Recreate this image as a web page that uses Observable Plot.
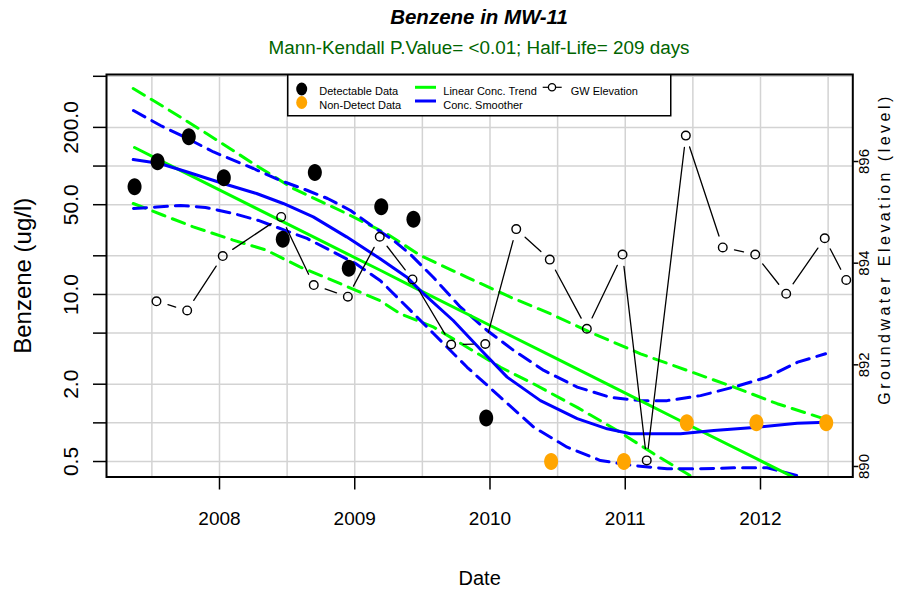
<!DOCTYPE html>
<html>
<head>
<meta charset="utf-8">
<script src="https://cdn.jsdelivr.net/npm/d3@7"></script>
<script src="https://cdn.jsdelivr.net/npm/@observablehq/plot@0.6"></script>
<style>
  html,body{margin:0;padding:0;background:#fff;}
  #chart{position:relative;width:899px;height:595px;font-family:"Liberation Sans",Arial,Helvetica,sans-serif;overflow:hidden;background:#fff;}
  #title{position:absolute;left:106px;width:746px;top:5px;text-align:center;font-weight:bold;font-style:italic;font-size:20.5px;line-height:24px;color:#000;}
  #subtitle{position:absolute;left:106px;width:746px;top:37px;text-align:center;font-size:18.85px;line-height:22px;color:#006400;}
  #plots{position:absolute;left:0;top:60px;width:899px;height:535px;}
  #plots svg{position:absolute;left:0;top:0;}
  #legend{position:absolute;left:287px;top:74px;}
</style>
</head>
<body>
<div id="chart">
  <div id="title">Benzene in MW-11</div>
  <div id="subtitle">Mann-Kendall P.Value= &lt;0.01; Half-Life= 209 days</div>
  <div id="plots"></div>
  <svg id="legend" width="386" height="43" font-family="Liberation Sans, Arial, sans-serif" font-size="11">
    <rect x="0.75" y="0.75" width="383" height="41" fill="#fff" stroke="#000" stroke-width="1.5"></rect>
    <ellipse cx="14.7" cy="15" rx="5.5" ry="6.5" fill="#000"></ellipse>
    <ellipse cx="14.7" cy="28.5" rx="5.5" ry="6.5" fill="#ffa500"></ellipse>
    <text x="32.3" y="20.6">Detectable Data</text>
    <text x="32.3" y="34.9">Non-Detect Data</text>
    <line x1="128" x2="149" y1="13.3" y2="13.3" stroke="#00ff00" stroke-width="3"></line>
    <line x1="128" x2="149" y1="27" y2="27" stroke="#0000ff" stroke-width="3"></line>
    <text x="156.3" y="20.6">Linear Conc. Trend</text>
    <text x="156.3" y="34.9">Conc. Smoother</text>
    <line x1="255.7" x2="274.7" y1="13.3" y2="13.3" stroke="#000" stroke-width="1.2"></line>
    <circle cx="265" cy="13.3" r="3.6" fill="#fff" stroke="#000" stroke-width="1.3"></circle>
    <text x="283.7" y="20.6">GW Elevation</text>
  </svg>
</div>
<script>
// ---------- data (decimal years) ----------
const detYear = [2007.372, 2007.542, 2007.773, 2008.032, 2008.468, 2008.705, 2008.956, 2009.196, 2009.434, 2009.972];
const detConc = [68.9, 107.9, 169, 81, 26.9, 89, 16.0, 48.2, 38.5, 1.09];

const ndYear = [2010.452, 2010.990, 2011.455, 2011.970, 2012.486];
const ndConc = [0.5, 0.5, 1.0, 1.0, 1.0];

const trendYear = [2007.372, 2007.542, 2007.773, 2008.032, 2008.468, 2008.705, 2008.956, 2009.196, 2009.434, 2009.972, 2010.452, 2010.990, 2011.455, 2011.970, 2012.486];
const trendConc = [139.5, 113.4, 85.8, 62.7, 36.9, 27.7, 20.4, 15.3, 11.4, 5.94, 3.32, 1.73, 0.98, 0.526, 0.282];

const trendUpYear = [2007.362, 2007.608, 2007.904, 2008.249, 2008.545, 2008.939, 2009.235, 2009.486, 2009.831, 2010.152, 2010.447, 2010.767, 2011.113, 2011.458, 2011.803, 2012.124, 2012.466];
const trendUp = [401.8, 280.7, 179.3, 104.7, 66.9, 42.7, 29.8, 20.1, 13.6, 9.52, 7.07, 4.94, 3.45, 2.56, 1.90, 1.41, 1.08];

const trendLoYear = [2007.362, 2007.584, 2007.806, 2008.101, 2008.348, 2008.594, 2008.889, 2009.185, 2009.338, 2009.584, 2009.831, 2010.078, 2010.324, 2010.645, 2010.941, 2011.211, 2011.458, 2011.704];
const trendLo = [51.1, 41.4, 33.6, 26.5, 22.1, 16.4, 12.2, 8.97, 7.07, 5.56, 3.88, 2.71, 2.01, 1.32, 0.872, 0.574, 0.401, 0.272];

const smoothYear = [2007.362, 2007.559, 2007.756, 2008.027, 2008.274, 2008.471, 2008.693, 2008.939, 2009.185, 2009.383, 2009.506, 2009.728, 2009.930, 2010.127, 2010.373, 2010.645, 2010.867, 2011.039, 2011.409, 2011.655, 2011.976, 2012.271, 2012.486];
const smoothConc = [112.5, 104.7, 90.2, 73.1, 61.1, 51.1, 40.2, 28.1, 19.05, 13.7, 10.2, 6.27, 3.73, 2.27, 1.49, 1.08, 0.899, 0.822, 0.822, 0.872, 0.925, 0.994, 1.01];

const smoothUpYear = [2007.364, 2007.564, 2007.763, 2007.956, 2008.251, 2008.451, 2008.651, 2008.799, 2008.969, 2009.139, 2009.287, 2009.412, 2009.582, 2009.782, 2009.979, 2010.176, 2010.398, 2010.645, 2010.891, 2011.113, 2011.310, 2011.557, 2011.803, 2012.050, 2012.275, 2012.481];
const smoothUp = [270.7, 206.9, 163.9, 128.7, 95.7, 77.2, 64.5, 55.9, 45.1, 33.5, 26.3, 20.5, 13.55, 7.96, 5.24, 3.66, 2.56, 1.90, 1.58, 1.49, 1.49, 1.63, 1.90, 2.27, 2.97, 3.45];

const smoothLoYear = [2007.364, 2007.538, 2007.712, 2007.896, 2008.104, 2008.288, 2008.466, 2008.647, 2008.843, 2009.006, 2009.190, 2009.338, 2009.584, 2009.831, 2010.078, 2010.324, 2010.571, 2010.817, 2011.063, 2011.310, 2011.557, 2011.803, 2012.050, 2012.272, 2012.481];
const smoothLo = [46.7, 48.0, 49.3, 47.6, 42.7, 37.7, 32.1, 27.3, 21.4, 17.4, 12.8, 8.97, 4.94, 2.71, 1.58, 0.925, 0.646, 0.509, 0.465, 0.439, 0.439, 0.447, 0.447, 0.389, 0.319];

const gwYear = [2007.534, 2007.761, 2008.024, 2008.456, 2008.697, 2008.949, 2009.185, 2009.427, 2009.713, 2009.965, 2010.194, 2010.442, 2010.716, 2010.980, 2011.159, 2011.448, 2011.721, 2011.961, 2012.190, 2012.475, 2012.634];
const gwLevel = [893.25, 893.07, 894.14, 894.91, 893.57, 893.34, 894.52, 893.68, 892.40, 892.41, 894.67, 894.07, 892.71, 894.17, 890.12, 896.51, 894.31, 894.17, 893.40, 894.49, 893.67];

const xTicks = [2008, 2009, 2010, 2011, 2012];
const xGrid = [2007.5, 2008, 2008.5, 2009, 2009.5, 2010, 2010.5, 2011, 2011.5, 2012, 2012.5];
const yTicks = [0.5, 1, 2, 5, 10, 20, 50, 100, 200, 500];
const yLabels = [0.5, 2, 10, 50, 200];
const gwTicks = [890, 892, 894, 896];

// ---------- layout ----------
const W = 899, H = 535;
const M = {top: 14, bottom: 118.5, left: 106, right: 46.7};
const xDomain = [2007.1645, 2012.6825];
const concDomain = [0.3788, 516.4];
const gwDomain = [889.793, 897.712];
const FONT = "'Liberation Sans', Arial, Helvetica, sans-serif";

const pts = (xs, ys) => xs.map((x, i) => ({x, y: ys[i]}));
const ellipse = (rx, ry) => ({
  draw(ctx) {
    const k = 0.5523;
    ctx.moveTo(rx, 0);
    ctx.bezierCurveTo(rx, ry * k, rx * k, ry, 0, ry);
    ctx.bezierCurveTo(-rx * k, ry, -rx, ry * k, -rx, 0);
    ctx.bezierCurveTo(-rx, -ry * k, -rx * k, -ry, 0, -ry);
    ctx.bezierCurveTo(rx * k, -ry, rx, -ry * k, rx, 0);
    ctx.closePath();
  }
});

const dash = "13,8";
const lineOpts = (color, dashed) => ({x: "x", y: "y", stroke: color, strokeWidth: 3, strokeDasharray: dashed ? dash : null, clip: true, curve: "linear"});

const concPlot = Plot.plot({
  width: W, height: H,
  marginTop: M.top, marginBottom: M.bottom, marginLeft: M.left, marginRight: M.right,
  style: {fontFamily: FONT, background: "white", overflow: "visible", color: "black"},
  x: {type: "linear", domain: xDomain},
  y: {type: "log", domain: concDomain},
  marks: [
    Plot.ruleX(xGrid, {stroke: "#d3d3d3", strokeWidth: 1.5}),
    Plot.ruleY(yTicks, {stroke: "#d3d3d3", strokeWidth: 1.5}),
    Plot.line(pts(trendUpYear, trendUp), lineOpts("#00ff00", true)),
    Plot.line(pts(trendLoYear, trendLo), lineOpts("#00ff00", true)),
    Plot.line(pts(smoothUpYear, smoothUp), lineOpts("#0000ff", true)),
    Plot.line(pts(smoothLoYear, smoothLo), lineOpts("#0000ff", true)),
    Plot.line(pts(trendYear, trendConc), lineOpts("#00ff00", false)),
    Plot.line(pts(smoothYear, smoothConc), lineOpts("#0000ff", false)),
    Plot.dot(pts(detYear, detConc), {x: "x", y: "y", r: 7, symbol: ellipse(7, 8.5), fill: "black", stroke: null}),
    Plot.dot(pts(ndYear, ndConc), {x: "x", y: "y", r: 7, symbol: ellipse(7, 8.5), fill: "#ffa500", stroke: null}),
    Plot.frame({stroke: "black", strokeWidth: 2}),
    Plot.axisX({ticks: xTicks, tickSize: 13, tickPadding: 21, tickFormat: (d) => String(d), fontSize: 19, label: null, strokeWidth: 1.5}),
    Plot.axisY({ticks: yTicks, tickSize: 13, tickFormat: () => "", label: null, strokeWidth: 1.5}),
    Plot.text(yLabels, {y: (d) => d, text: (d) => d.toFixed(1), frameAnchor: "left", textAnchor: "middle", lineAnchor: "middle", rotate: -90, dx: -35, fontSize: 21}),
    Plot.text(["Date"], {text: (d) => d, frameAnchor: "bottom", textAnchor: "middle", lineAnchor: "middle", dy: 101.5, fontSize: 20}),
    Plot.text(["Benzene (ug/l)"], {text: (d) => d, frameAnchor: "left", textAnchor: "middle", lineAnchor: "middle", rotate: -90, dx: -83, fontSize: 24})
  ]
});

const gwPts = pts(gwYear, gwLevel);
const gwSegs = d3.pairs(gwPts).map(([a, b]) => ({x1: a.x, y1: a.y, x2: b.x, y2: b.y}));

const gwPlot = Plot.plot({
  width: W, height: H,
  marginTop: M.top, marginBottom: M.bottom, marginLeft: M.left, marginRight: M.right,
  style: {fontFamily: FONT, background: "transparent", overflow: "visible", color: "black"},
  x: {type: "linear", domain: xDomain, axis: null},
  y: {type: "linear", domain: gwDomain},
  marks: [
    Plot.arrow(gwSegs, {x1: "x1", y1: "y1", x2: "x2", y2: "y2", headLength: 0, inset: 12, stroke: "black", strokeWidth: 1.3}),
    Plot.dot(gwPts, {x: "x", y: "y", r: 4.3, stroke: "black", strokeWidth: 1.4, fill: "none"}),
    Plot.axisY({anchor: "right", ticks: gwTicks, tickSize: 5, tickFormat: () => "", label: null, strokeWidth: 1.5}),
    Plot.text(gwTicks, {y: (d) => d, text: (d) => String(d), frameAnchor: "right", textAnchor: "middle", lineAnchor: "middle", rotate: -90, dx: 11, fontSize: 15}),
    Plot.text(["Groundwater Elevation (level)"], {text: (d) => d, frameAnchor: "right", textAnchor: "middle", lineAnchor: "middle", rotate: -90, dx: 32, dy: -25, fontSize: 16})
  ]
});

const host = document.getElementById("plots");
host.appendChild(concPlot);
host.appendChild(gwPlot);
gwPlot.style.pointerEvents = "none";
gwPlot.querySelectorAll("text").forEach((t) => {
  if (t.textContent === "Groundwater Elevation (level)") {
    t.setAttribute("textLength", "308");
    t.setAttribute("lengthAdjust", "spacing");
  }
});
</script>
</body>
</html>
